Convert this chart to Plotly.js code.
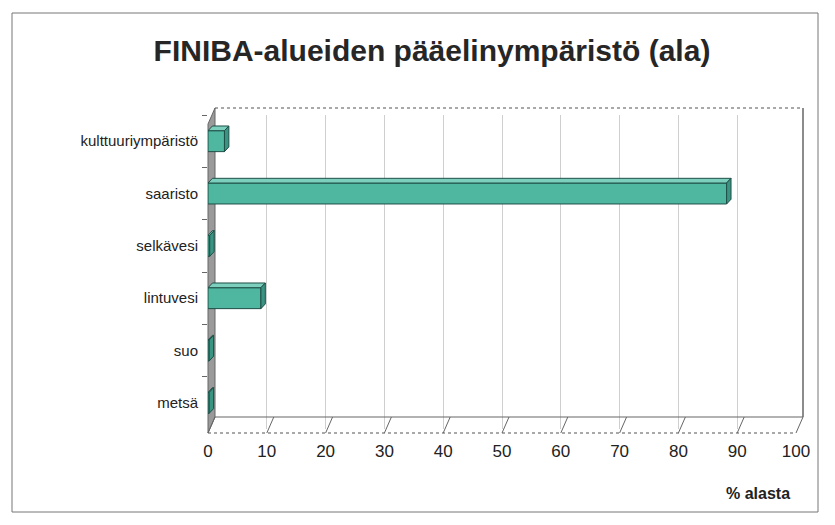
<!DOCTYPE html>
<html>
<head>
<meta charset="utf-8">
<script src="https://cdn.plot.ly/plotly-3.0.1.min.js"></script>
<style>html,body{margin:0;padding:0;background:#fff;}#chart{width:835px;height:525px;}</style>
</head>
<body>
<div id="chart"></div>
<script>
// ---- data ----
const categories = ["kulttuuriympäristö", "saaristo", "selkävesi", "lintuvesi", "suo", "metsä"];
const values = [2.8, 88.2, 0.3, 9.0, 0.2, 0.2];
const xTickValues = [0, 10, 20, 30, 40, 50, 60, 70, 80, 90, 100];
const titleText = "FINIBA-alueiden pääelinympäristö (ala)";
const xTitleText = "% alasta";

// ---- layout geometry (pixels) ----
const W = 835, H = 525;
const mL = 208, mR = 32, mT = 108, mB = 92;
const pw = W - mL - mR, ph = H - mT - mB;
const px = x => (x - mL) / pw;
const py = y => (H - mB - y) / ph;
const frontRight = 796, depthX = 7, depthY = 16;

const FONT = "Liberation Sans, Arial, Helvetica, sans-serif";
const barColor = "#4fb7a0", topColor = "#7ccfbd", sideColor = "#3a9482", edge = "#1f4f47";

// bar depth in data units
const bdx = 0.75, bdy = 0.09, half = 0.2;

const shapes = [];
// outer border
shapes.push({type: "rect", xref: "paper", yref: "paper", x0: px(12), x1: px(818), y0: py(13), y1: py(512),
  line: {color: "#777", width: 1}, layer: "below"});
// left wall (gray)
shapes.push({type: "path", xref: "paper", yref: "paper",
  path: `M${px(mL)},${py(433)} L${px(mL)},${py(124)} L${px(mL + depthX)},${py(108)} L${px(mL + depthX)},${py(417)} Z`,
  fillcolor: "#9a9a9a", line: {color: "#666", width: 1}, layer: "below"});
// back wall top and right edges
shapes.push({type: "line", xref: "paper", yref: "paper", x0: px(mL + depthX), x1: px(frontRight + depthX), y0: py(108), y1: py(108),
  line: {color: "#555", width: 1.2, dash: "dot"}});
shapes.push({type: "line", xref: "paper", yref: "paper", x0: px(frontRight + depthX), x1: px(frontRight + depthX), y0: py(108), y1: py(417),
  line: {color: "#666", width: 1.5}});
// floor
shapes.push({type: "line", xref: "paper", yref: "paper", x0: px(mL + depthX), x1: px(frontRight + depthX), y0: py(417), y1: py(417),
  line: {color: "#666", width: 1.2}});
shapes.push({type: "line", xref: "paper", yref: "paper", x0: px(mL), x1: px(frontRight), y0: py(433), y1: py(433),
  line: {color: "#555", width: 1.2, dash: "dot"}});
xTickValues.forEach(v => {
  const fx = mL + (frontRight - mL) * v / 100;
  shapes.push({type: "line", xref: "paper", yref: "paper", x0: px(fx), x1: px(fx + depthX), y0: py(433), y1: py(417),
    line: {color: "#666", width: 1}});
});

// 3D faces of bars
values.forEach((v, i) => {
  const t = i - half, b = i + half;
  shapes.push({type: "path", xref: "x", yref: "y",
    path: `M0,${t} L${v},${t} L${v + bdx},${t - bdy} L${bdx},${t - bdy} Z`,
    fillcolor: topColor, line: {color: edge, width: 1}});
  shapes.push({type: "path", xref: "x", yref: "y",
    path: `M${v},${b} L${v},${t} L${v + bdx},${t - bdy} L${v + bdx},${b - bdy} Z`,
    fillcolor: sideColor, line: {color: edge, width: 1}});
});

const data = [
  {type: "bar", orientation: "h", y: categories, x: values,
   marker: {color: barColor, line: {color: edge, width: 1}},
   width: 2 * half, hoverinfo: "x+y", xaxis: "x", yaxis: "y"},
  // invisible trace to activate back-wall axes
  {type: "scatter", mode: "markers", x: [0, 100], y: [0, 1], xaxis: "x2", yaxis: "y2",
   marker: {opacity: 0}, hoverinfo: "skip", showlegend: false}
];

const layout = {
  width: W, height: H,
  margin: {l: mL, r: mR, t: mT, b: mB, pad: 0},
  paper_bgcolor: "#fff", plot_bgcolor: "rgba(0,0,0,0)",
  showlegend: false,
  font: {family: FONT, color: "#222"},
  title: {text: "<b>" + titleText + "</b>", font: {family: FONT, size: 30, color: "#262626"},
    x: 432 / W, xref: "container", xanchor: "center", y: 1 - 50 / H, yref: "container", yanchor: "middle"},
  xaxis: {domain: [0, (frontRight - mL) / pw], range: [0, 100], tickvals: xTickValues,
    showgrid: false, zeroline: false, showline: false, ticks: "",
    tickfont: {size: 17, color: "#222"}, ticklabelstandoff: 10, anchor: "y", fixedrange: true},
  yaxis: {domain: [py(429), py(115)], type: "category", range: [5.5, -0.5],
    showgrid: false, zeroline: false, showline: false,
    ticks: "outside", tickson: "boundaries", ticklen: 5, tickcolor: "#666",
    tickfont: {size: 15, color: "#222"}, ticklabelstandoff: 9, anchor: "x", fixedrange: true},
  xaxis2: {domain: [depthX / pw, (frontRight + depthX - mL) / pw], range: [0, 100], tickvals: xTickValues,
    showgrid: true, gridcolor: "#cfcfcf", gridwidth: 1, showticklabels: false, zeroline: false,
    anchor: "y2", overlaying: "x", fixedrange: true},
  yaxis2: {domain: [py(417), py(108)], range: [0, 1], showgrid: false, showticklabels: false,
    zeroline: false, anchor: "x2", overlaying: "y", fixedrange: true},
  shapes: shapes,
  annotations: [{text: "<b>" + xTitleText + "</b>", xref: "paper", yref: "paper",
    x: px(792), y: py(494), xanchor: "right", yanchor: "middle", showarrow: false,
    font: {family: FONT, size: 16, color: "#222"}}]
};

Plotly.newPlot("chart", data, layout, {displayModeBar: false, staticPlot: true});
</script>
</body>
</html>
